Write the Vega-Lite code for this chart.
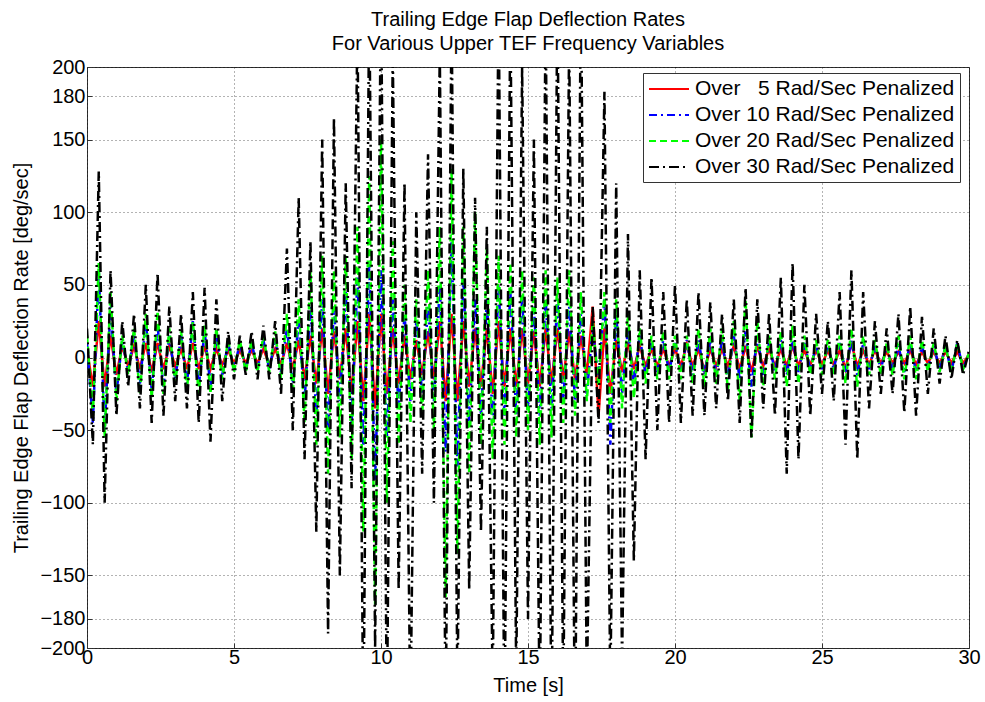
{
  "$schema": "https://vega.github.io/schema/vega-lite/v6.json",
  "width": 882,
  "height": 581,
  "autosize": {"type": "none"},
  "padding": {"left": 87, "top": 67, "right": 16, "bottom": 54},
  "background": "white",
  "title": {
    "text": ["Trailing Edge Flap Deflection Rates", "For Various Upper TEF Frequency Variables"],
    "fontSize": 20, "fontWeight": "normal", "font": "Liberation Sans", "color": "#000",
    "anchor": "middle", "offset": 3, "lineHeight": 24
  },
  "data": {"values": [
    {"t":0.0,"r":5,"b":10,"g":15,"k":20},
    {"t":0.2,"r":-20,"b":-45,"g":-40,"k":-60},
    {"t":0.4,"r":25,"b":60,"g":65,"k":128},
    {"t":0.6,"r":-20,"b":-50,"g":-55,"k":-100},
    {"t":0.8,"r":15,"b":35,"g":45,"k":60},
    {"t":1.0,"r":-12,"b":-25,"g":-30,"k":-40},
    {"t":1.2,"r":8,"b":12,"g":15,"k":25},
    {"t":1.4,"r":-6,"b":-10,"g":-12,"k":-20},
    {"t":1.6,"r":8,"b":15,"g":20,"k":30},
    {"t":1.8,"r":-8,"b":-18,"g":-25,"k":-35},
    {"t":2.0,"r":10,"b":25,"g":30,"k":50},
    {"t":2.2,"r":-10,"b":-22,"g":-28,"k":-45},
    {"t":2.4,"r":10,"b":22,"g":32,"k":58},
    {"t":2.6,"r":-8,"b":-20,"g":-25,"k":-40},
    {"t":2.8,"r":8,"b":15,"g":20,"k":35},
    {"t":3.0,"r":-6,"b":-15,"g":-18,"k":-30},
    {"t":3.2,"r":6,"b":15,"g":18,"k":30},
    {"t":3.4,"r":-8,"b":-18,"g":-22,"k":-35},
    {"t":3.6,"r":10,"b":25,"g":25,"k":45},
    {"t":3.8,"r":-8,"b":-20,"g":-25,"k":-45},
    {"t":4.0,"r":8,"b":18,"g":22,"k":48},
    {"t":4.2,"r":-8,"b":-20,"g":-25,"k":-58},
    {"t":4.4,"r":6,"b":15,"g":20,"k":40},
    {"t":4.6,"r":-5,"b":-12,"g":-15,"k":-30},
    {"t":4.8,"r":5,"b":10,"g":12,"k":18},
    {"t":5.0,"r":-4,"b":-8,"g":-10,"k":-15},
    {"t":5.2,"r":5,"b":10,"g":12,"k":15},
    {"t":5.4,"r":-4,"b":-8,"g":-10,"k":-12},
    {"t":5.6,"r":5,"b":10,"g":12,"k":18},
    {"t":5.8,"r":-4,"b":-8,"g":-10,"k":-15},
    {"t":6.0,"r":6,"b":12,"g":15,"k":22},
    {"t":6.2,"r":-5,"b":-8,"g":-10,"k":-15},
    {"t":6.4,"r":6,"b":12,"g":18,"k":25},
    {"t":6.6,"r":-5,"b":-10,"g":-15,"k":-25},
    {"t":6.8,"r":10,"b":20,"g":30,"k":75},
    {"t":7.0,"r":-8,"b":-18,"g":-25,"k":-50},
    {"t":7.2,"r":12,"b":25,"g":40,"k":110},
    {"t":7.4,"r":-15,"b":-30,"g":-45,"k":-70},
    {"t":7.6,"r":15,"b":35,"g":60,"k":80},
    {"t":7.8,"r":-18,"b":-40,"g":-60,"k":-120},
    {"t":8.0,"r":20,"b":40,"g":70,"k":150},
    {"t":8.2,"r":-25,"b":-50,"g":-80,"k":-190},
    {"t":8.4,"r":18,"b":35,"g":60,"k":165},
    {"t":8.6,"r":-15,"b":-30,"g":-55,"k":-150},
    {"t":8.8,"r":20,"b":45,"g":70,"k":120},
    {"t":9.0,"r":-25,"b":-45,"g":-70,"k":-90},
    {"t":9.2,"r":25,"b":55,"g":90,"k":230},
    {"t":9.4,"r":-30,"b":-60,"g":-120,"k":-260},
    {"t":9.6,"r":30,"b":65,"g":125,"k":250},
    {"t":9.8,"r":-35,"b":-85,"g":-170,"k":-200},
    {"t":10.0,"r":30,"b":60,"g":150,"k":260},
    {"t":10.2,"r":-25,"b":-55,"g":-100,"k":-250},
    {"t":10.4,"r":20,"b":40,"g":80,"k":210},
    {"t":10.6,"r":-18,"b":-35,"g":-60,"k":-160},
    {"t":10.8,"r":15,"b":30,"g":50,"k":120},
    {"t":11.0,"r":-15,"b":-30,"g":-45,"k":-250},
    {"t":11.2,"r":12,"b":25,"g":40,"k":100},
    {"t":11.4,"r":-12,"b":-25,"g":-40,"k":-80},
    {"t":11.6,"r":18,"b":35,"g":60,"k":140},
    {"t":11.8,"r":-15,"b":-30,"g":-50,"k":-100},
    {"t":12.0,"r":25,"b":50,"g":90,"k":210},
    {"t":12.2,"r":-30,"b":-65,"g":-165,"k":-250},
    {"t":12.4,"r":30,"b":80,"g":130,"k":240},
    {"t":12.6,"r":-30,"b":-75,"g":-135,"k":-230},
    {"t":12.8,"r":25,"b":55,"g":90,"k":130},
    {"t":13.0,"r":-20,"b":-45,"g":-80,"k":-160},
    {"t":13.2,"r":20,"b":40,"g":100,"k":110},
    {"t":13.4,"r":-20,"b":-40,"g":-60,"k":-120},
    {"t":13.6,"r":20,"b":40,"g":75,"k":90},
    {"t":13.8,"r":-25,"b":-45,"g":-70,"k":-230},
    {"t":14.0,"r":25,"b":50,"g":70,"k":250},
    {"t":14.2,"r":-20,"b":-40,"g":-60,"k":-260},
    {"t":14.4,"r":20,"b":45,"g":65,"k":240},
    {"t":14.6,"r":-20,"b":-40,"g":-55,"k":-220},
    {"t":14.8,"r":20,"b":40,"g":60,"k":200},
    {"t":15.0,"r":-18,"b":-35,"g":-50,"k":-180},
    {"t":15.2,"r":18,"b":35,"g":55,"k":150},
    {"t":15.4,"r":-20,"b":-40,"g":-60,"k":-250},
    {"t":15.6,"r":20,"b":40,"g":60,"k":240},
    {"t":15.8,"r":-18,"b":-35,"g":-55,"k":-260},
    {"t":16.0,"r":20,"b":40,"g":55,"k":250},
    {"t":16.2,"r":-15,"b":-30,"g":-45,"k":-240},
    {"t":16.4,"r":18,"b":35,"g":60,"k":220},
    {"t":16.6,"r":-15,"b":-30,"g":-40,"k":-270},
    {"t":16.8,"r":15,"b":30,"g":45,"k":260},
    {"t":17.0,"r":-12,"b":-25,"g":-30,"k":-230},
    {"t":17.2,"r":35,"b":20,"g":25,"k":35},
    {"t":17.4,"r":-40,"b":-15,"g":-20,"k":-45},
    {"t":17.6,"r":20,"b":40,"g":45,"k":183},
    {"t":17.8,"r":-25,"b":-60,"g":-45,"k":-230},
    {"t":18.0,"r":12,"b":30,"g":40,"k":120},
    {"t":18.2,"r":-10,"b":-25,"g":-35,"k":-210},
    {"t":18.4,"r":10,"b":20,"g":30,"k":85},
    {"t":18.6,"r":-8,"b":-18,"g":-28,"k":-140},
    {"t":18.8,"r":8,"b":15,"g":20,"k":60},
    {"t":19.0,"r":-6,"b":-12,"g":-18,"k":-70},
    {"t":19.2,"r":6,"b":10,"g":15,"k":55},
    {"t":19.4,"r":-6,"b":-10,"g":-15,"k":-50},
    {"t":19.6,"r":6,"b":12,"g":18,"k":45},
    {"t":19.8,"r":-6,"b":-10,"g":-15,"k":-45},
    {"t":20.0,"r":6,"b":10,"g":15,"k":50},
    {"t":20.2,"r":-6,"b":-10,"g":-15,"k":-45},
    {"t":20.4,"r":9,"b":12,"g":15,"k":40},
    {"t":20.6,"r":-6,"b":-12,"g":-18,"k":-40},
    {"t":20.8,"r":6,"b":12,"g":20,"k":45},
    {"t":21.0,"r":-9,"b":-12,"g":-20,"k":-40},
    {"t":21.2,"r":6,"b":12,"g":20,"k":38},
    {"t":21.4,"r":-6,"b":-12,"g":-18,"k":-35},
    {"t":21.6,"r":6,"b":12,"g":20,"k":30},
    {"t":21.8,"r":-6,"b":-15,"g":-22,"k":-30},
    {"t":22.0,"r":8,"b":15,"g":25,"k":40},
    {"t":22.2,"r":-8,"b":-15,"g":-30,"k":-45},
    {"t":22.4,"r":8,"b":18,"g":40,"k":48},
    {"t":22.6,"r":-10,"b":-20,"g":-55,"k":-55},
    {"t":22.8,"r":8,"b":15,"g":25,"k":40},
    {"t":23.0,"r":-6,"b":-12,"g":-20,"k":-35},
    {"t":23.2,"r":6,"b":10,"g":15,"k":30},
    {"t":23.4,"r":-6,"b":-10,"g":-15,"k":-40},
    {"t":23.6,"r":6,"b":12,"g":18,"k":55},
    {"t":23.8,"r":-6,"b":-12,"g":-20,"k":-80},
    {"t":24.0,"r":8,"b":12,"g":22,"k":65},
    {"t":24.2,"r":-6,"b":-10,"g":-18,"k":-70},
    {"t":24.4,"r":5,"b":10,"g":15,"k":50},
    {"t":24.6,"r":-5,"b":-8,"g":-12,"k":-40},
    {"t":24.8,"r":5,"b":8,"g":12,"k":30},
    {"t":25.0,"r":-5,"b":-8,"g":-12,"k":-25},
    {"t":25.2,"r":5,"b":8,"g":12,"k":25},
    {"t":25.4,"r":-5,"b":-8,"g":-12,"k":-30},
    {"t":25.6,"r":5,"b":10,"g":15,"k":45},
    {"t":25.8,"r":-8,"b":-10,"g":-18,"k":-60},
    {"t":26.0,"r":10,"b":12,"g":20,"k":60},
    {"t":26.2,"r":-6,"b":-12,"g":-20,"k":-70},
    {"t":26.4,"r":5,"b":10,"g":15,"k":45},
    {"t":26.6,"r":-5,"b":-8,"g":-12,"k":-35},
    {"t":26.8,"r":5,"b":8,"g":12,"k":25},
    {"t":27.0,"r":-4,"b":-8,"g":-12,"k":-25},
    {"t":27.2,"r":4,"b":8,"g":10,"k":20},
    {"t":27.4,"r":-4,"b":-8,"g":-12,"k":-25},
    {"t":27.6,"r":4,"b":8,"g":15,"k":30},
    {"t":27.8,"r":-4,"b":-10,"g":-15,"k":-38},
    {"t":28.0,"r":5,"b":10,"g":15,"k":35},
    {"t":28.2,"r":-5,"b":-10,"g":-15,"k":-40},
    {"t":28.4,"r":4,"b":8,"g":12,"k":28},
    {"t":28.6,"r":-4,"b":-8,"g":-10,"k":-25},
    {"t":28.8,"r":4,"b":8,"g":10,"k":20},
    {"t":29.0,"r":-4,"b":-8,"g":-10,"k":-18},
    {"t":29.2,"r":4,"b":8,"g":8,"k":15},
    {"t":29.4,"r":-4,"b":-10,"g":-10,"k":-15},
    {"t":29.6,"r":4,"b":10,"g":10,"k":12},
    {"t":29.8,"r":-4,"b":-8,"g":-8,"k":-12},
    {"t":30.0,"r":2,"b":3,"g":3,"k":5}
  ]},
  "transform": [{"fold": ["r", "b", "g", "k"], "as": ["s", "v"]}],
  "mark": {"type": "line", "clip": true, "strokeWidth": 2.5},
  "encoding": {
    "x": {
      "field": "t", "type": "quantitative",
      "scale": {"domain": [0, 30], "nice": false, "zero": false},
      "axis": {"title": "Time [s]", "values": [0, 5, 10, 15, 20, 25, 30], "labelPadding": 4, "titlePadding": 8, "labelFlush": false}
    },
    "y": {
      "field": "v", "type": "quantitative",
      "scale": {"domain": [-200, 200], "nice": false, "zero": false},
      "axis": {"title": "Trailing Edge Flap Deflection Rate [deg/sec]", "values": [-200, -180, -150, -100, -50, 0, 50, 100, 150, 180, 200], "labelPadding": 7, "titlePadding": 8, "labelOverlap": false}
    },
    "color": {
      "field": "s", "type": "nominal",
      "scale": {"domain": ["r", "b", "g", "k"], "range": ["#ff0000", "#0000ff", "#00ff00", "#000000"]},
      "legend": {
        "title": null, "orient": "none", "legendX": 556, "legendY": 6, "direction": "vertical",
        "labelExpr": "{'r':'Over\u00a0\u00a0\u00a05 Rad/Sec Penalized','b':'Over 10 Rad/Sec Penalized','g':'Over 20 Rad/Sec Penalized','k':'Over 30 Rad/Sec Penalized'}[datum.label]",
        "labelFontSize": 21, "labelFont": "Liberation Sans", "labelColor": "#000", "labelLimit": 500,
        "symbolType": "M-1,0L3,0", "symbolSize": 400, "symbolStrokeWidth": 2,
        "fillColor": "white", "strokeColor": "#333", "padding": 5, "rowPadding": 5, "labelOffset": 25
      }
    },
    "strokeDash": {
      "field": "s", "type": "nominal",
      "scale": {"domain": ["r", "b", "g", "k"], "range": [[1, 0], [8, 4, 2, 4], [7, 4], [10, 4, 2, 4]]}
    }
  },
  "config": {
    "font": "Liberation Sans",
    "axis": {
      "labelFont": "Liberation Sans", "titleFont": "Liberation Sans", "labelFontSize": 20, "titleFontSize": 20,
      "titleFontWeight": "normal", "labelColor": "#000", "titleColor": "#000",
      "grid": true, "gridColor": "#000", "gridDash": [1, 3], "gridOpacity": 0.6,
      "domain": false, "ticks": true, "tickSize": -5, "tickColor": "#333"
    },
    "view": {"stroke": "#333", "strokeWidth": 1}
  }
}
